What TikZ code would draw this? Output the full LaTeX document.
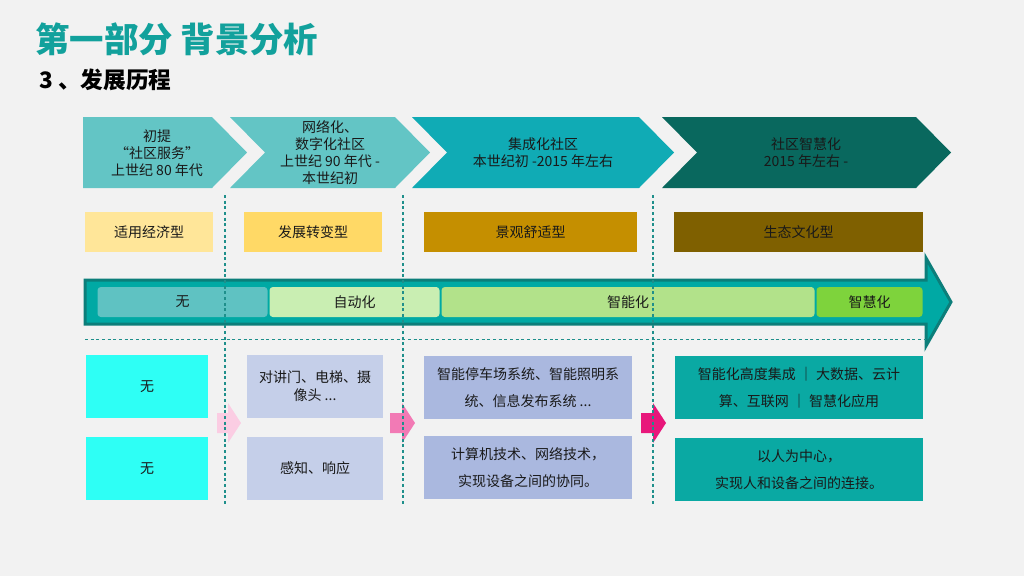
\documentclass[tikz,border=0pt]{standalone}
\usepackage{fontspec}
\setmainfont{Noto Sans CJK SC}
\usepackage{xcolor}
\definecolor{cBg}{HTML}{F2F2F2}
\definecolor{cTitle}{HTML}{12A19C}
\definecolor{cChevA}{HTML}{63C5C5}
\definecolor{cChevB}{HTML}{10ABB5}
\definecolor{cChevC}{HTML}{09685E}
\definecolor{cTypeA}{HTML}{FFE699}
\definecolor{cTypeB}{HTML}{FFD966}
\definecolor{cTypeC}{HTML}{C58F00}
\definecolor{cTypeD}{HTML}{7F6000}
\definecolor{cBar}{HTML}{00A9A4}
\definecolor{cBarEdge}{HTML}{0C7E7A}
\definecolor{cSegA}{HTML}{5FC2C2}
\definecolor{cSegB}{HTML}{C9EEB2}
\definecolor{cSegC}{HTML}{B2E28A}
\definecolor{cSegD}{HTML}{7ED33C}
\definecolor{cCyan}{HTML}{2EFFF5}
\definecolor{cLavA}{HTML}{C5CFE9}
\definecolor{cLavB}{HTML}{AAB8DF}
\definecolor{cTeal}{HTML}{0AA9A3}
\definecolor{cPinkA}{HTML}{FBCDE3}
\definecolor{cPinkB}{HTML}{F27AB5}
\definecolor{cPinkC}{HTML}{E8177B}
\definecolor{cDash}{HTML}{1F8F8B}
\usepackage{tikz}
\usetikzlibrary{positioning}
\tikzset{
  chev-text/.style={align=center,text=black!90,
    font=\fontsize{10.5}{12.75}\selectfont},
  type-box/.style={minimum height=30pt,inner sep=0pt,outer sep=0pt,
    font=\fontsize{10.5}{12}\selectfont,text=black!90},
  seg-box/.style={rounded corners=2.5pt,minimum height=22.5pt,inner sep=0pt,
    outer sep=0pt,font=\fontsize{10.5}{12}\selectfont,text=black!90},
  info-box/.style={minimum height=47.25pt,inner sep=0pt,outer sep=0pt,
    align=center,font=\fontsize{10.5}{20}\selectfont,text=black!90},
  bar-arrow/.style={fill=cBar,draw=cBarEdge,line width=2.25pt,line join=miter},
  guide/.style={draw=cDash,line width=0.8pt,dash pattern=on 2.25pt off 2pt},
}

\begin{document}
\begin{tikzpicture}[x=0.75pt,y=-0.75pt]
  \fill[cBg] (0,0) rectangle (1024,576);
  \useasboundingbox (0,0) rectangle (1024,576);

  % 标题
  \node[anchor=west,inner sep=0pt,text=cTitle,font=\fontsize{25.8}{28}\selectfont\bfseries]
    (title) at (35,39) {第一部分 背景分析};
  \node[anchor=west,inner sep=0pt,font=\fontsize{17}{20}\selectfont\bfseries]
    (subtitle) at (39,80) {3 、发展历程};

  % 阶段箭头
  \fill[cChevA] (83,117) -- (212,117) -- (247,152.5) -- (212,188) -- (83,188) -- cycle;
  \fill[cChevA] (230,117) -- (395,117) -- (430,152.5) -- (395,188) -- (230,188) -- (265,152.5) -- cycle;
  \fill[cChevB] (412,117) -- (639,117) -- (674,152.5) -- (639,188) -- (412,188) -- (447,152.5) -- cycle;
  \fill[cChevC] (662,117) -- (916,117) -- (951,152.5) -- (916,188) -- (662,188) -- (697,152.5) -- cycle;
  \node[chev-text] (stage1) at (157,153) {初提\\“社区服务”\\上世纪 80 年代};
  \node[chev-text] (stage2) at (330,152.5) {网络化、\\数字化社区\\上世纪 90 年代 -\\本世纪初};
  \node[chev-text] (stage3) at (543,152.5) {集成化社区\\本世纪初 -2015 年左右};
  \node[chev-text] (stage4) at (806,152.5) {社区智慧化\\2015 年左右 -};

  % 类型
  \node[type-box,fill=cTypeA,minimum width=96pt] (typeA) at (149,232) {适用经济型};
  \node[type-box,fill=cTypeB,minimum width=103.5pt] (typeB) at (313,232) {发展转变型};
  \node[type-box,fill=cTypeC,minimum width=159.75pt] (typeC) at (530.5,232) {景观舒适型};
  \node[type-box,fill=cTypeD,minimum width=186.75pt] (typeD) at (798.5,232) {生态文化型};

  % 时间轴
  \draw[bar-arrow] (85,280) -- (926,280) -- (926,258) -- (951,302) -- (926,346)
    -- (926,324) -- (85,324) -- cycle;
  \node[seg-box,fill=cSegA,minimum width=127.5pt] (segA) at (182.5,302) {无};
  \node[seg-box,fill=cSegB,minimum width=127.5pt] (segB) at (354.5,302) {自动化};
  \node[seg-box,fill=cSegC,minimum width=279.75pt] (segC) at (628,302) {智能化};
  \node[seg-box,fill=cSegD,minimum width=79.5pt] (segD) at (869.5,302) {智慧化};

  % 设施与技术
  \node[info-box,fill=cCyan,minimum width=91.5pt] (devA) at (147,386.5) {无};
  \node[info-box,fill=cCyan,minimum width=91.5pt,below=14.25pt of devA] (techA) {无};
  \node[info-box,fill=cLavA,minimum width=102pt,font=\fontsize{10.5}{13.5}\selectfont]
    (devB) at (315,386.5) {对讲门、电梯、摄\\像头 ...};
  \node[info-box,fill=cLavA,minimum width=102pt,below=14.25pt of devB] (techB) {感知、响应};
  \node[info-box,fill=cLavB,minimum width=156pt] (devC) at (528,387.5)
    {智能停车场系统、智能照明系\\统、信息发布系统 ...};
  \node[info-box,fill=cLavB,minimum width=156pt,below=12.75pt of devC] (techC)
    {计算机技术、网络技术，\\实现设备之间的协同。};
  \node[info-box,fill=cTeal,minimum width=186pt] (devD) at (799,387.5)
    {智能化高度集成 ｜ 大数据、云计\\算、互联网 ｜ 智慧化应用};
  \node[info-box,fill=cTeal,minimum width=186pt,below=14.25pt of devD] (techD)
    {以人为中心，\\实现人和设备之间的连接。};

  \fill[cPinkA] (217,413) -- (228,413) -- (228,403) -- (241,423) -- (228,443) -- (228,433) -- (217,433) -- cycle;
  \fill[cPinkB] (390,413) -- (402,413) -- (402,403) -- (415,423) -- (402,443) -- (402,433) -- (390,433) -- cycle;
  \fill[cPinkC] (641,413) -- (653,413) -- (653,403) -- (666,423) -- (653,443) -- (653,433) -- (641,433) -- cycle;

  % 分隔虚线
  \draw[guide] (85,339.5) -- (926,339.5);
  \foreach \gx in {225,403,653}
    \draw[guide] (\gx,195) -- (\gx,506);
\end{tikzpicture}
\end{document}
